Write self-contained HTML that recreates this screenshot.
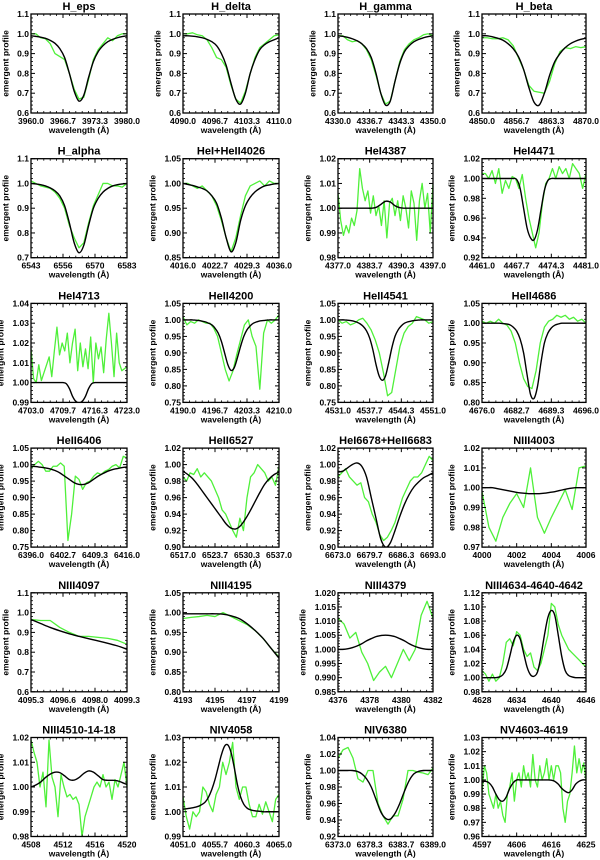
<!DOCTYPE html>
<html><head><meta charset="utf-8"><style>
html,body{margin:0;padding:0;background:#fff;}
svg{display:block;}
text{font-family:"Liberation Sans",sans-serif;font-weight:bold;fill:#000;}
</style></head><body>
<svg id="chart" width="600" height="860" viewBox="0 0 600 860" xmlns="http://www.w3.org/2000/svg"></svg>
<script>
const titles=["H_eps","H_delta","H_gamma","H_beta","H_alpha","HeI+HeII4026","HeI4387","HeI4471","HeI4713","HeII4200","HeII4541","HeII4686","HeII6406","HeII6527","HeI6678+HeII6683","NIII4003","NIII4097","NIII4195","NIII4379","NIII4634-4640-4642","NIII4510-14-18","NIV4058","NIV6380","NV4603-4619"];
const xRanges=[[3960,3980],[4090,4110],[4330,4350],[4850,4870],[6543,6583],[4016,4036],[4377,4397],[4461,4481],[4703,4723],[4190,4210],[4531,4551],[4676,4696],[6396,6416],[6517,6537],[6673,6693],[4000,4006],[4095.3,4099.3],[4193,4199],[4376,4382],[4628,4646],[4508,4520],[4051,4065],[6373,6389],[4597,4625]];
const xTickLabels=[["3960.0","3966.7","3973.3","3980.0"],["4090.0","4096.7","4103.3","4110.0"],["4330.0","4336.7","4343.3","4350.0"],["4850.0","4856.7","4863.3","4870.0"],["6543","6556","6570","6583"],["4016.0","4022.7","4029.3","4036.0"],["4377.0","4383.7","4390.3","4397.0"],["4461.0","4467.7","4474.3","4481.0"],["4703.0","4709.7","4716.3","4723.0"],["4190.0","4196.7","4203.3","4210.0"],["4531.0","4537.7","4544.3","4551.0"],["4676.0","4682.7","4689.3","4696.0"],["6396.0","6402.7","6409.3","6416.0"],["6517.0","6523.7","6530.3","6537.0"],["6673.0","6679.7","6686.3","6693.0"],["4000","4002","4004","4006"],["4095.3","4096.6","4098.0","4099.3"],["4193","4195","4197","4199"],["4376","4378","4380","4382"],["4628","4634","4640","4646"],["4508","4512","4516","4520"],["4051.0","4055.7","4060.3","4065.0"],["6373.0","6378.3","6383.7","6389.0"],["4597","4606","4616","4625"]];
const yTickLabels=[["0.6","0.7","0.8","0.9","1.0","1.1"],["0.6","0.7","0.8","0.9","1.0","1.1"],["0.6","0.7","0.8","0.9","1.0","1.1"],["0.6","0.7","0.8","0.9","1.0","1.1"],["0.7","0.8","0.9","1.0","1.1"],["0.85","0.90","0.95","1.00","1.05"],["0.98","0.99","1.00","1.01","1.02"],["0.92","0.94","0.96","0.98","1.00","1.02"],["0.99","1.00","1.01","1.02","1.03","1.04"],["0.75","0.80","0.85","0.90","0.95","1.00","1.05"],["0.75","0.80","0.85","0.90","0.95","1.00","1.05"],["0.80","0.85","0.90","0.95","1.00","1.05"],["0.75","0.80","0.85","0.90","0.95","1.00","1.05"],["0.90","0.92","0.94","0.96","0.98","1.00","1.02"],["0.90","0.92","0.94","0.96","0.98","1.00","1.02"],["0.97","0.98","0.99","1.00","1.01","1.02"],["0.6","0.7","0.8","0.9","1.0","1.1"],["0.80","0.85","0.90","0.95","1.00","1.05"],["0.985","0.990","0.995","1.000","1.005","1.010","1.015","1.020"],["0.98","1.00","1.02","1.04","1.06","1.08","1.10","1.12"],["0.98","0.99","1.00","1.01","1.02"],["0.99","1.00","1.01","1.02","1.03"],["0.92","0.94","0.96","0.98","1.00","1.02","1.04"],["0.96","0.97","0.98","0.99","1.00","1.01","1.02","1.03"]];
const model=[
[0.99,0.987,0.983,0.977,0.967,0.952,0.925,0.88,0.80,0.71,0.66,0.69,0.78,0.86,0.91,0.94,0.96,0.972,0.98,0.986,0.99],
[0.99,0.99,0.988,0.985,0.98,0.972,0.96,0.94,0.90,0.84,0.75,0.67,0.645,0.70,0.80,0.87,0.92,0.945,0.96,0.97,0.98],
[0.99,0.987,0.982,0.975,0.965,0.95,0.925,0.88,0.80,0.70,0.64,0.66,0.76,0.85,0.91,0.94,0.96,0.972,0.98,0.986,0.99],
[0.99,0.99,0.985,0.978,0.968,0.95,0.925,0.885,0.82,0.73,0.655,0.64,0.70,0.79,0.86,0.90,0.93,0.95,0.963,0.972,0.978],
[1.0,0.998,0.995,0.99,0.982,0.97,0.95,0.91,0.84,0.76,0.72,0.75,0.83,0.90,0.94,0.965,0.98,0.99,0.995,0.998,1.0],
[1.0,0.998,0.996,0.993,0.99,0.985,0.975,0.96,0.93,0.89,0.862,0.88,0.925,0.955,0.972,0.983,0.99,0.995,0.997,0.999,1.0],
[1,1,1,1,1,1,1,1,1.0003,1.0015,1.0028,1.0025,1.001,1.0002,1,1,1,1,1,1,1],
[1,1,1,1,1,1,1,1,1,1,0.999,0.99,0.97,0.95,0.94,0.938,0.948,0.968,0.988,0.998,1,1,1,1,1,1,1,1,1,1,1],
[1,1,1,1,1,1,1,1,1,1,1,0.9995,0.997,0.993,0.9905,0.9898,0.9905,0.993,0.997,0.9995,1,1,1,1,1,1,1,1,1,1,1],
[1.0,1.0,1.0,1.0,0.999,0.998,0.996,0.994,0.99,0.985,0.975,0.96,0.935,0.9,0.865,0.847,0.855,0.885,0.92,0.95,0.97,0.982,0.99,0.994,0.997,0.998,0.999,1,1,1,1],
[1,1,1,0.999,0.998,0.996,0.993,0.988,0.98,0.967,0.945,0.91,0.865,0.83,0.817,0.83,0.87,0.915,0.95,0.97,0.982,0.99,0.994,0.996,0.998,0.999,1,1,1,1,1],
[1.0,1.0,1.0,1.0,1.0,1.0,0.999,0.998,0.996,0.99,0.98,0.96,0.925,0.87,0.82,0.81,0.84,0.9,0.95,0.975,0.988,0.995,0.998,1,1,1,1,1,1,1,1],
[0.995,0.994,0.992,0.99,0.987,0.982,0.975,0.965,0.955,0.945,0.94,0.94,0.945,0.955,0.965,0.973,0.98,0.985,0.988,0.991,0.993],
[0.992,0.988,0.983,0.976,0.968,0.96,0.952,0.944,0.936,0.928,0.923,0.922,0.926,0.934,0.944,0.955,0.966,0.976,0.983,0.988,0.991],
[0.991,0.992,0.996,1.0,1.002,0.998,0.985,0.96,0.935,0.91,0.90,0.905,0.92,0.937,0.952,0.964,0.973,0.979,0.984,0.987,0.99],
[1.0,1.0,1.0,0.9995,0.999,0.9985,0.998,0.9975,0.9972,0.997,0.997,0.997,0.9972,0.9976,0.998,0.9986,0.9992,0.9997,1.0,1.0,1.0],
[0.965,0.945,0.925,0.908,0.893,0.88,0.868,0.857,0.845,0.832,0.815],
[0.997,0.997,0.997,0.997,0.997,0.996,0.992,0.985,0.972,0.955,0.935,0.91,0.885],
[1.0,1.0,1.0002,1.0006,1.0012,1.002,1.003,1.0038,1.0045,1.0049,1.005,1.0049,1.0045,1.0038,1.003,1.002,1.0012,1.0006,1.0002,1.0,1.0],
[1,1,1,1,1,1.001,1.004,1.012,1.03,1.05,1.06,1.055,1.035,1.015,1.004,1.002,1.008,1.03,1.06,1.085,1.095,1.088,1.06,1.03,1.01,1.003,1.001,1,1,1,1],
[1.0,1.0008,1.002,1.0038,1.0052,1.006,1.0058,1.0045,1.003,1.0028,1.0038,1.0055,1.0065,1.006,1.0045,1.003,1.0027,1.0027,1.0025,1.0018,1.001],
[1.001,1.0012,1.0014,1.0016,1.0019,1.0023,1.003,1.004,1.006,1.009,1.013,1.018,1.023,1.0265,1.027,1.024,1.018,1.011,1.006,1.003,1.0015,1.0008,1.0005,1.0003,1.0002,1.0,1.0,1.0,1.0,1.0,1.0],
[1,1,1,1,0.999,0.996,0.99,0.98,0.965,0.95,0.942,0.941,0.948,0.96,0.975,0.988,0.996,0.999,1,1,1],
[0.999,0.999,0.998,0.995,0.99,0.986,0.985,0.988,0.994,0.998,1.0,1.0,1.0,1.0,1.0,1.0,1.0,1.0,1.0,1.0,0.9998,0.999,0.997,0.994,0.992,0.991,0.993,0.997,0.999,1.0,1.0]];
const observed=[
[1.0,1.0,0.98,0.975,0.95,0.90,0.885,0.87,0.80,0.72,0.67,0.68,0.77,0.87,0.92,0.95,0.98,0.965,0.99,1.0,1.0],
[1.0,1.0,1.005,0.995,0.99,0.97,0.93,0.88,0.87,0.83,0.74,0.67,0.65,0.71,0.80,0.88,0.93,0.95,0.97,0.99,0.995],
[0.99,0.99,0.97,0.96,0.965,0.95,0.92,0.87,0.79,0.70,0.645,0.66,0.76,0.86,0.92,0.95,0.97,0.98,0.995,1.0,0.99],
[0.98,0.98,0.975,0.975,0.98,0.97,0.94,0.88,0.82,0.74,0.71,0.705,0.70,0.76,0.85,0.91,0.93,0.925,0.935,0.93,0.935],
[1.01,1.0,0.99,0.985,0.98,0.965,0.94,0.90,0.83,0.78,0.74,0.76,0.84,0.91,0.955,1.0,1.0,0.99,0.99,0.985,1.0],
[1.0,1.0,0.995,0.99,0.995,0.985,0.975,0.955,0.925,0.89,0.862,0.89,0.935,0.975,0.995,1.0,1.005,0.995,1.005,1.0,1.0],
[1.006,0.995,0.989,0.993,0.99,0.996,0.993,0.999,1.016,1.008,1.003,1.007,0.998,1.005,0.997,1.001,0.993,1.003,0.988,1.002,1.004,0.997,1.003,0.995,1.005,1.0,0.992,1.007,1.002,0.987,1.003,1.01,1.0,1.006,0.99,1.01],
[1.005,1.005,1.0,1.008,0.995,1.01,0.985,0.998,0.99,1.002,1.0,0.99,1.004,0.98,0.96,0.945,0.93,0.945,0.975,0.995,1.0,1.01,1.0,1.012,1.005,1.01,1.0,1.015,1.01,1.005,0.99,1.005],
[1.017,1.002,1.0,1.009,1.001,1.005,1.009,1.013,1.003,1.016,1.028,1.014,1.02,1.016,1.025,1.01,1.02,1.027,1.006,1.02,1.008,1.017,1.007,1.023,1.0,1.02,1.012,1.018,1.005,1.022,1.035,1.02,1.003,1.025,1.01,1.006,1.007,1.008],
[1.01,0.985,0.995,0.99,1.0,0.995,0.99,0.99,0.975,0.95,0.9,0.85,0.815,0.845,0.895,0.94,0.985,1.0,0.95,0.92,0.79,0.96,1.0,0.99,1.0,1.015],
[1.0,0.99,0.995,0.985,0.99,1.0,1.005,0.99,0.97,0.94,0.9,0.84,0.77,0.78,0.85,0.92,0.96,0.98,0.99,1.01,1.005,1.0,0.99,0.995],
[1.005,1.0,1.005,1.0,1.01,1.0,0.995,0.98,0.95,0.9,0.86,0.84,0.835,0.88,0.95,0.99,1.005,1.01,1.02,1.015,1.02,1.01,1.015,1.005,1.01,1.0],
[0.99,1.0,1.01,1.0,0.98,0.98,0.995,0.995,1.005,0.995,0.77,0.85,0.965,0.955,0.925,0.945,0.95,0.965,0.975,0.97,0.98,0.985,0.995,1.0,0.99,1.025,1.02],
[0.985,0.98,0.99,0.988,0.995,0.985,0.99,0.985,0.98,0.97,0.96,0.945,0.94,0.93,0.92,0.912,0.935,0.92,0.96,0.985,0.99,1.0,0.995,0.99,0.98,0.985,0.975,0.998],
[0.985,0.99,0.995,0.985,0.98,0.975,0.978,0.96,0.955,0.94,0.93,0.915,0.908,0.912,0.92,0.93,0.945,0.96,0.97,0.98,0.985,0.985,0.99,1.0,1.01,1.005],
[0.998,0.98,0.973,0.985,0.992,0.997,0.99,1.01,0.985,0.977,0.985,0.992,0.999,0.989,1.01,1.011],
[0.965,0.96,0.96,0.925,0.9,0.88,0.88,0.875,0.87,0.86,0.84],
[0.985,0.988,0.99,0.993,0.99,1.0,0.99,0.98,0.97,0.955,0.935,0.91,0.888],
[1.011,1.009,1.004,1.006,0.999,0.995,0.989,0.992,0.994,0.99,0.995,1.0,0.996,1.0,1.012,1.017,1.011],
[1.01,1.005,0.995,1.005,0.995,1.0,1.02,1.05,1.055,1.045,1.065,1.06,1.04,1.03,1.035,1.015,1.01,1.02,1.04,1.06,1.105,1.1,1.075,1.06,1.05,1.04,1.035,1.03,1.025,1.02,1.015],
[1.019,1.014,1.01,1.0,1.006,0.992,1.019,1.004,1.0,0.988,1.005,1.0,0.996,0.997,0.995,0.996,0.993,0.98,0.988,0.992,0.996,1.0,1.002,1.0,1.005,1.0,1.002,0.995,1.003,1.0,1.005,1.01,1.0],
[1.006,0.998,0.993,1.0,0.998,1.0,1.01,1.008,1.003,1.0,1.007,1.01,1.02,1.015,1.02,1.028,1.01,1.005,1.01,1.01,1.003,0.998,0.998,1.003,0.999,1.004,1.0,0.996,1.005,1.007],
[1.015,1.025,1.028,1.015,0.99,0.986,1.0,1.0,0.96,0.945,0.935,0.945,0.945,0.965,1.0,1.0,0.998,0.997,0.995,1.003],
[0.99,1.01,1.005,0.99,0.985,0.98,0.99,0.98,0.985,0.975,0.97,0.99,0.995,1.005,0.985,1.0,1.005,0.995,1.01,1.0,1.005,0.995,1.018,1.0,0.995,1.01,1.0,1.005,1.015,1.0,1.01,1.0,1.01,1.01,1.005,0.98,0.97,0.985,0.99,1.005,1.024,1.005,1.015,1.005,1.012,1.0]];

const NS='http://www.w3.org/2000/svg';
const svg=document.getElementById('chart');
const colLeft=[31,183,338,482], colRight=[127,279,433,586];
const rowTop0=14, rowStep=144.7, boxH=99;
function mk(tag,attrs,parent){const e=document.createElementNS(NS,tag);for(const k in attrs)e.setAttribute(k,attrs[k]);(parent||svg).appendChild(e);return e;}
function smoothPath(pts){let d='M'+pts[0][0].toFixed(2)+','+pts[0][1].toFixed(2);
 for(let i=0;i<pts.length-1;i++){const p0=pts[Math.max(0,i-1)],p1=pts[i],p2=pts[i+1],p3=pts[Math.min(pts.length-1,i+2)];
  const c1=[p1[0]+(p2[0]-p0[0])/6,p1[1]+(p2[1]-p0[1])/6],c2=[p2[0]-(p3[0]-p1[0])/6,p2[1]-(p3[1]-p1[1])/6];
  d+=' C'+c1[0].toFixed(2)+','+c1[1].toFixed(2)+' '+c2[0].toFixed(2)+','+c2[1].toFixed(2)+' '+p2[0].toFixed(2)+','+p2[1].toFixed(2);}
 return d;}
for(let p=0;p<titles.length;p++){
 const c=p%4,r=Math.floor(p/4);
 const L=colLeft[c],R=colRight[c],T=rowTop0+rowStep*r,B=T+boxH;
 const g=mk('g',{});
 
 
 const [x0,x1]=xRanges[p];
 const yl=yTickLabels[p];const y0=parseFloat(yl[0]),y1=parseFloat(yl[yl.length-1]);
 const xs=v=>L+(v-x0)/(x1-x0)*(R-L);
 const ys=v=>B-(v-y0)/(y1-y0)*(B-T);
 const defs=mk('defs',{},g);const cp=mk('clipPath',{id:'cp'+p},defs);mk('rect',{x:L,y:T,width:R-L,height:B-T},cp);
 const ob=observed[p];
 const op=ob.map((v,i)=>[xs(x0+(x1-x0)*i/(ob.length-1)),ys(v)]);
 const ol=mk('polyline',{points:op.map(q=>q[0].toFixed(2)+','+q[1].toFixed(2)).join(' '),fill:'none',stroke:'#4ff03a','stroke-width':1.3,'stroke-linejoin':'round','clip-path':'url(#cp'+p+')'},g);
 
 
 const md=model[p];
 const mp=md.map((v,i)=>[xs(x0+(x1-x0)*i/(md.length-1)),ys(v)]);
 const ml=mk('path',{d:smoothPath(mp),fill:'none',stroke:'#000','stroke-width':1.4,'clip-path':'url(#cp'+p+')'},g);
 
 
 const bx=mk('rect',{x:L,y:T,width:R-L,height:B-T,fill:'none',stroke:'#000','stroke-width':1.3},g);
 
 
 for(let k=0;k<4;k++){const X=L+(R-L)*k/3;
  mk('line',{x1:X,y1:B,x2:X,y2:B-4,stroke:'#000','stroke-width':1},g);
  mk('line',{x1:X,y1:T,x2:X,y2:T+4,stroke:'#000','stroke-width':1},g);
  for(let m=1;m<5&&k<3;m++){const Xm=X+(R-L)/3*m/5;
   mk('line',{x1:Xm,y1:B,x2:Xm,y2:B-2,stroke:'#000','stroke-width':0.8},g);
   mk('line',{x1:Xm,y1:T,x2:Xm,y2:T+2,stroke:'#000','stroke-width':0.8},g);}
  const t=mk('text',{x:X,y:B+11,'font-size':8.5,'text-anchor':'middle'},g);t.textContent=xTickLabels[p][k];
  
  }
 for(let k=0;k<yl.length;k++){const Y=ys(parseFloat(yl[k]));
  mk('line',{x1:L,y1:Y,x2:L+4,y2:Y,stroke:'#000','stroke-width':1},g);
  mk('line',{x1:R,y1:Y,x2:R-4,y2:Y,stroke:'#000','stroke-width':1},g);
  if(k<yl.length-1){const step=(B-T)/(yl.length-1);for(let m=1;m<5;m++){const Ym=Y-step*m/5;
   mk('line',{x1:L,y1:Ym,x2:L+2,y2:Ym,stroke:'#000','stroke-width':0.8},g);
   mk('line',{x1:R,y1:Ym,x2:R-2,y2:Ym,stroke:'#000','stroke-width':0.8},g);}}
  const t=mk('text',{x:L-2,y:Y+3,'font-size':8.5,'text-anchor':'end'},g);t.textContent=yl[k];
  
  }
 const tt=mk('text',{x:(L+R)/2,y:T-4,'font-size':11,'text-anchor':'middle'},g);tt.textContent=titles[p];
 
 
 const xl=mk('text',{x:(L+R)/2,y:B+20,'font-size':8.5,'text-anchor':'middle'},g);xl.textContent='wavelength (\u00c5)';
 
 
 const maxLen=Math.max(...yl.map(s=>s.length));
 const yx=L-maxLen*4.9-8;
 const ya=mk('text',{x:yx,y:(T+B)/2,'font-size':8.5,'text-anchor':'middle',transform:'rotate(-90 '+yx+' '+(T+B)/2+')'},g);ya.textContent='emergent  profile';
 
 
}
</script>
</body></html>
